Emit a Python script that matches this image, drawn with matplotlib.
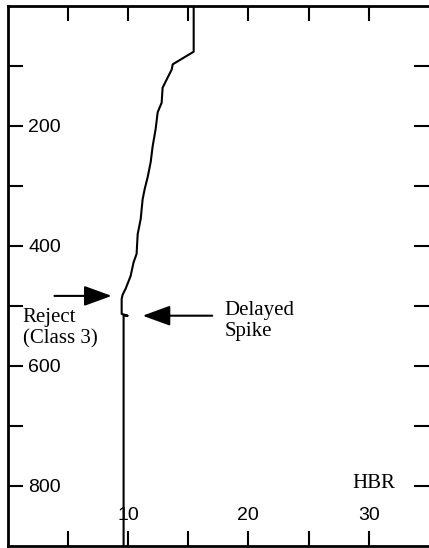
import matplotlib
matplotlib.use('Agg')
import matplotlib.pyplot as plt

# HBR profile vs depth
hbr = [15.46, 15.46, 13.72, 13.63, 13.30, 12.88, 12.80, 12.47, 12.30, 12.05,
       11.89, 11.64, 11.39, 11.22, 11.06, 10.81, 10.72, 10.47, 10.22, 9.81,
       9.56, 9.48, 9.48, 9.98, 9.64, 9.64]
depth = [0, 77, 98, 107, 120, 137, 162, 178, 206, 235,
         261, 286, 306, 323, 356, 381, 414, 428, 451, 472,
         482, 489, 514, 517, 517, 900]

xticks = [5, 10, 15, 20, 25, 30]
xticklabels = ['', '10', '', '20', '', '30']
yticks = [100, 200, 300, 400, 500, 600, 700, 800]
yticklabels = ['', '200', '', '400', '', '600', '', '800']

reject_arrow = ((3.9, 484), (8.65, 484))
spike_arrow = ((17.0, 517), (11.22, 517))

W, H = 429, 548
fig = plt.figure(figsize=(W / 100, H / 100), dpi=100)
ax = fig.add_axes([7.5 / W, 2.5 / H, 1 - 7.5 / W, 540 / H])

ax.plot(hbr, depth, color='black', lw=1.5)

ax.set_xlim(0, 35)
ax.set_ylim(900, 0)

ax.spines['right'].set_visible(False)
for s in ['left', 'top', 'bottom']:
    ax.spines[s].set_linewidth(2)

ax.set_xticks(xticks, xticklabels)
ax.set_yticks(yticks, yticklabels)
ax.tick_params(direction='in', length=11, width=1.5, top=True, right=True,
               labelsize=14)
ax.tick_params(axis='x', pad=-28)
ax.tick_params(axis='y', pad=-14.8)
plt.setp(ax.get_yticklabels(), ha='left')
for lab in ax.get_xticklabels() + ax.get_yticklabels():
    lab.set_fontfamily('Liberation Sans')

arrow = dict(arrowstyle='-|>,head_length=1.7,head_width=0.62', lw=1.5,
             color='black', shrinkA=0, shrinkB=0, mutation_scale=10)
ax.annotate('', xy=reject_arrow[1], xytext=reject_arrow[0], arrowprops=arrow)
ax.annotate('', xy=spike_arrow[1], xytext=spike_arrow[0], arrowprops=arrow)

serif = dict(fontfamily='Liberation Serif', fontsize=15, linespacing=1.15)
ax.text(1.25, 504, 'Reject\n(Class 3)', va='top', ha='left', **serif)
ax.text(18.0, 493, 'Delayed\nSpike', va='top', ha='left', **serif)
ax.text(28.6, 797, 'HBR', va='center', ha='left', **serif)

fig.savefig('out.png', dpi=100)
